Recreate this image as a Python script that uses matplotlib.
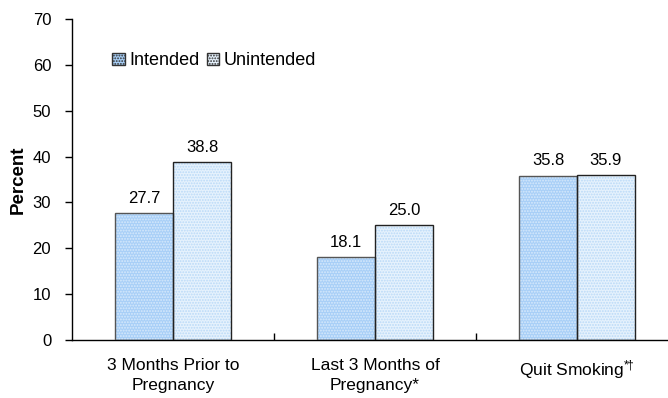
import matplotlib
matplotlib.use("Agg")
import matplotlib.pyplot as plt
import numpy as np

categories = ["3 Months Prior to\nPregnancy", "Last 3 Months of\nPregnancy*", r"Quit Smoking$^{{*}\!\!\dagger}$"]
series_names = ["Intended", "Unintended"]
intended = [27.7, 18.1, 35.8]
unintended = [38.8, 25.0, 35.9]
yticks = [0, 10, 20, 30, 40, 50, 60, 70]

plt.rcParams["font.family"] = ["Liberation Sans", "DejaVu Sans"]
plt.rcParams["mathtext.fontset"] = "custom"
plt.rcParams["mathtext.rm"] = "Liberation Sans"
plt.rcParams["mathtext.it"] = "Liberation Sans"
plt.rcParams["hatch.linewidth"] = 0.9

fig = plt.figure(figsize=(6.68, 3.98), dpi=100)
ax = fig.add_axes([72 / 668, 1 - 340 / 398, (678 - 72) / 668, (340 - 19) / 398])

x = np.arange(len(categories))
w = 0.287
fills = ["#a8cff7", "#e6f2fd"]
dots = ["#d8eafc", "#b9d9f7"]
edges = ["#555555", "#222222"]

handles = []
for i, (vals, col, dot, ec) in enumerate(zip([intended, unintended], fills, dots, edges)):
    pos = x - w / 2 + i * w
    ax.bar(pos, vals, w, color=col, hatch="......", edgecolor=dot, linewidth=0, zorder=2)
    ax.bar(pos, vals, w, fill=False, edgecolor=ec, linewidth=1.0, zorder=3)
    for p, v in zip(pos, vals):
        ax.text(p, v + 1.6, f"{v:.1f}", ha="center", va="bottom", fontsize=12)
    h = plt.Rectangle((0, 0), 1, 1, facecolor=col, hatch="......", edgecolor="#333333", linewidth=1.0)
    handles.append(h)

ax.set_xlim(-0.5, 2.5)
ax.set_ylim(0, 70)
ax.set_yticks(yticks)
ax.set_xticks([0.5, 1.5])
ax.set_xticklabels([])
ax.tick_params(axis="y", direction="out", length=5, labelsize=12, width=1, pad=10)
ax.tick_params(axis="x", direction="in", length=5, width=1)
for i, c in enumerate(categories):
    ax.text(i, -4.0, c, ha="center", va="top", fontsize=12.5, linespacing=1.35)

ax.spines["top"].set_visible(False)
ax.spines["right"].set_visible(False)
ax.spines["left"].set_linewidth(1)
ax.spines["bottom"].set_linewidth(1)
ax.set_ylabel("Percent", fontsize=13.5, fontweight="bold", labelpad=4)

ax.legend(handles, series_names, loc="center left", bbox_to_anchor=(0.066, 0.87),
          frameon=False, ncol=2, fontsize=13, handlelength=0.7, handleheight=0.7,
          handletextpad=0.25, columnspacing=0.4, borderaxespad=0, borderpad=0)

fig.savefig("out.png", dpi=100)
